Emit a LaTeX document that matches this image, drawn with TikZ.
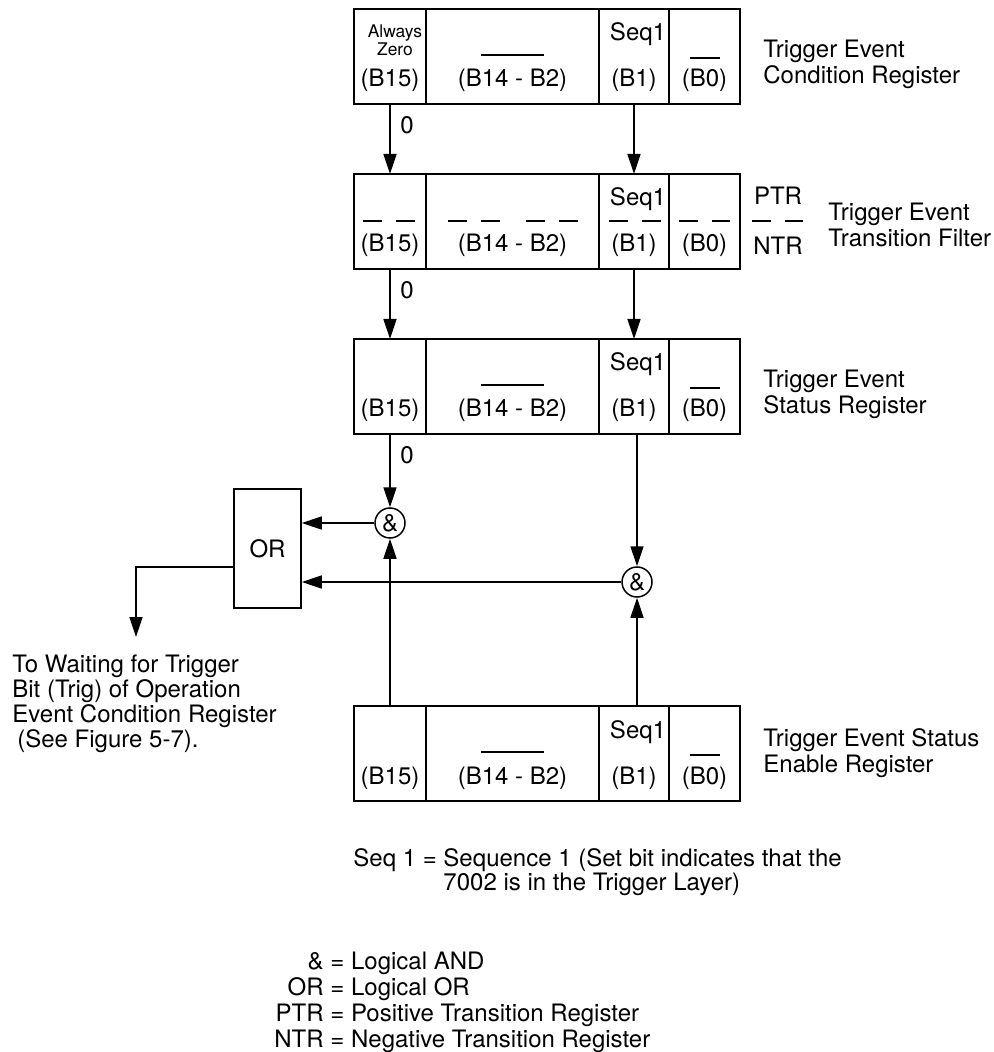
\documentclass[tikz,border=0pt]{standalone}
\usepackage{fontspec}
\setmainfont{TeX Gyre Heros}
\usetikzlibrary{arrows.meta,positioning,calc}
\tikzset{
  cell/.style   ={draw,line width=0.75pt,minimum height=47.5pt,inner sep=0pt,outer sep=0pt},
  divider/.style={line width=1.2pt},
  bitno/.style  ={anchor=base,inner sep=0pt},
  bar/.style    ={line width=1pt},
  dashbar/.style={line width=1pt,dash pattern=on 9.5pt off 7pt},
  gate/.style   ={draw,circle,line width=0.75pt,minimum size=15pt,inner sep=0pt},
  orbox/.style  ={draw,line width=0.75pt,minimum width=33.5pt,minimum height=59.5pt,inner sep=0pt},
  flow/.style   ={-{Triangle[length=10pt,width=6.5pt]},line width=0.75pt},
  regname/.style={anchor=north west,align=left,inner sep=0pt},
  zero/.style   ={inner sep=0pt},
}
% one register row: #1 = name prefix, #2 = top edge (px)
\newcommand{\bitreg}[2]{%
  \node[cell,minimum width=36pt] (#1a) at (390,{#2+47.5}) {};
  \node[cell,minimum width=86.5pt,right=0pt of #1a] (#1b) {};
  \node[cell,minimum width=35pt,right=0pt of #1b] (#1c) {};
  \node[cell,minimum width=35.5pt,right=0pt of #1c] (#1d) {};
  \draw[divider] (#1a.north east) -- (#1a.south east);
  \draw[divider] (#1b.north east) -- (#1b.south east);
  \draw[divider] (#1c.north east) -- (#1c.south east);
  \node[bitno] (#1an) at ([yshift=8.5pt]#1a.south) {(B15)};
  \node[bitno] (#1bn) at ([yshift=8.5pt]#1b.south) {(B14 - B2)};
  \node[bitno] (#1cn) at ([yshift=8.5pt]#1c.south) {(B1)};
  \node[bitno] (#1dn) at ([yshift=8.5pt]#1d.south) {(B0)};
  \node[bitno] (#1cs) at ([xshift=2pt,yshift=31.5pt]#1c.south) {Seq1};
}
\newcommand{\regbars}[1]{%
  \draw[bar] ([xshift=-15.75pt,yshift=24.5pt]#1b.south) -- ([xshift=15.75pt,yshift=24.5pt]#1b.south);
  \draw[bar] ([xshift=-7.5pt,yshift=23pt]#1d.south) -- ([xshift=7.5pt,yshift=23pt]#1d.south);
}

\begin{document}
\begin{tikzpicture}[x=0.5pt,y=-0.5pt,font=\fontsize{12}{13}\selectfont]
  \useasboundingbox (0,0) rectangle (993,1052);

  \bitreg{r1}{9}
  \bitreg{r2}{174}
  \bitreg{r3}{339}
  \bitreg{r4}{706}
  \regbars{r1}
  \regbars{r3}
  \regbars{r4}

  \node[anchor=north,align=center,inner sep=0pt,font=\fontsize{8.7}{7.5}\selectfont]
       (azero) at (395,24) {Always\\Zero};

  % transition filter: PTR over NTR
  \draw[dashbar] ([xshift=-13.5pt,yshift=24pt]r2a.south) -- ([xshift=13pt,yshift=24pt]r2a.south);
  \draw[dashbar] ([xshift=-32.25pt,yshift=24pt]r2b.south) -- ([xshift=-4.75pt,yshift=24pt]r2b.south);
  \draw[dashbar] ([xshift=6.75pt,yshift=24pt]r2b.south) -- ([xshift=33.25pt,yshift=24pt]r2b.south);
  \draw[dashbar] ([xshift=-12.5pt,yshift=24pt]r2c.south) -- ([xshift=14pt,yshift=24pt]r2c.south);
  \draw[dashbar] ([xshift=-12.75pt,yshift=24pt]r2d.south) -- ([xshift=12.75pt,yshift=24pt]r2d.south);
  \draw[dashbar] ([xshift=6pt,yshift=24pt]r2d.south east) -- ([xshift=31.5pt,yshift=24pt]r2d.south east);
  \node[bitno] (ptr) at (778,205) {PTR};
  \node[bitno] (ntr) at (778,255) {NTR};

  \node[regname] (condreg) at (763,40) {Trigger Event\\Condition Register};
  \node[regname] (filtreg) at (828,203) {Trigger Event\\Transition Filter};
  \node[regname] (statreg) at (763,370) {Trigger Event\\Status Register};
  \node[regname] (enabreg) at (763,728) {Trigger Event Status\\Enable Register};

  \draw[flow] (r1a.south) -- (r2a.north);
  \draw[flow] (r1c.south) -- (r2c.north);
  \draw[flow] (r2a.south) -- (r3a.north);
  \draw[flow] (r2c.south) -- (r3c.north);
  \node[zero] (z1) at (407,125) {0};
  \node[zero] (z2) at (407,290) {0};
  \node[zero] (z3) at (407,455) {0};

  \node[gate] (and1) at (390,523) {\&};
  \node[gate] (and2) at (637,582) {\&};
  \node[orbox] (orgate) at (267.5,548.5) {OR};
  \draw[flow] (r3a.south) -- (and1);
  \draw[flow] (and2 |- r3c.south) -- (and2);
  \draw[flow] (r4a.north) -- (and1);
  \draw[flow] (and2 |- r4c.north) -- (and2);
  \draw[flow] (and1) -- (and1 -| orgate.east);
  \draw[flow] (and2) -- (and2 -| orgate.east);
  \coordinate (orout) at ([yshift=-9.25pt]orgate.west);
  \coordinate (waitbit) at (136,637);
  \draw[flow] (orout) -| (waitbit);

  \node[regname,font=\fontsize{12}{12.5}\selectfont] (dest) at (12,655)
       {To Waiting for Trigger\\Bit (Trig) of Operation\\Event Condition Register\\\hspace*{2.5pt}(See Figure 5-7).};

  \node[regname,font=\fontsize{12}{12}\selectfont] (seqnote) at (353,848)
       {Seq 1 = Sequence 1 (Set bit indicates that the\\\phantom{Seq 1 = }7002 is in the Trigger Layer)};

  \node[anchor=north west,inner sep=0pt] (legend) at (274,951)
       {\begin{tabular}{@{}r@{\ =\ }l@{}}
          \& & Logical AND\\
          OR & Logical OR\\
          PTR & Positive Transition Register\\
          NTR & Negative Transition Register
        \end{tabular}};
\end{tikzpicture}
\end{document}
